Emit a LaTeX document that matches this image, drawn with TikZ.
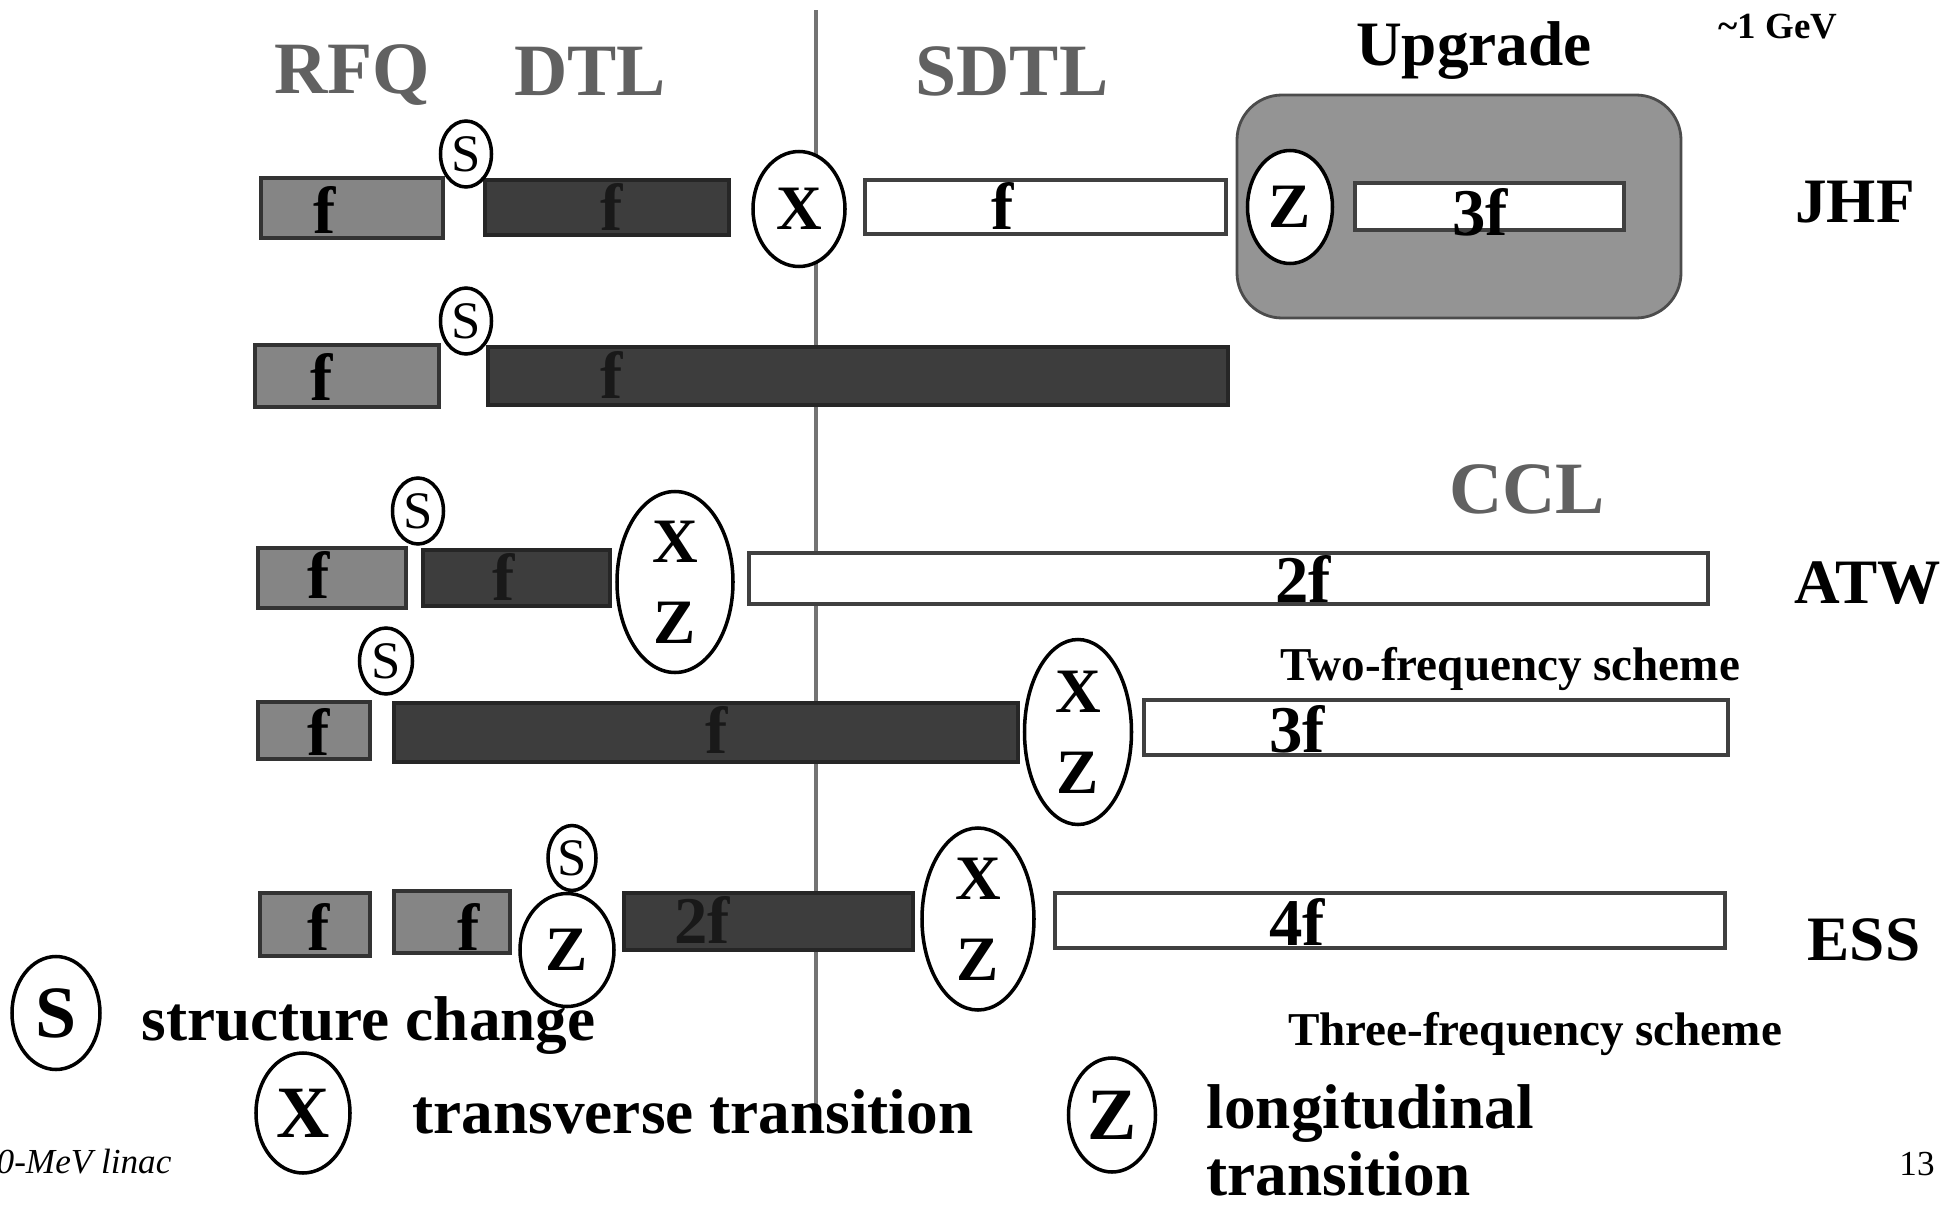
\documentclass[tikz,border=0pt]{standalone}
\usepackage{fontspec}
\setmainfont{Liberation Serif}
\usepackage{tikz}
\usetikzlibrary{shapes.geometric}

\begin{document}
\begin{tikzpicture}
\tikzset{
	hd/.style={font=\fontsize{21}{21}\selectfont\bfseries, text=black!62, anchor=base, inner sep=0},
	tag/.style={font=\fontsize{18}{18}\selectfont\bfseries, anchor=base, inner sep=0},
	lbl/.style={font=\fontsize{19}{19}\selectfont\bfseries, anchor=base, inner sep=0},
	note/.style={font=\fontsize{13.4}{13.4}\selectfont\bfseries, anchor=base, inner sep=0},
	leg/.style={font=\fontsize{18}{18}\selectfont\bfseries, anchor=base west, inner sep=0},
	ring/.style={ellipse, draw=black, line width=1pt, fill=white, inner sep=0, font=\fontsize{18}{23}\selectfont\bfseries, align=center},
	sring/.style={ellipse, draw=black, line width=1pt, fill=white, inner sep=0, font=\fontsize{15}{15}\selectfont, minimum width=0.51cm, minimum height=0.66cm},
	rfq/.style={draw=black!80, fill=black!48, line width=0.9pt},
	dtl/.style={draw=black!85, fill=black!76, line width=0.9pt},
	ccl/.style={draw=black!75, fill=white, line width=1.1pt}
}
\useasboundingbox (0,0) rectangle (19.59,12.08);

% Trennlinie
\draw[black!55, line width=1.3pt] (8.16,1.01) -- (8.16,11.98);

% Titel
\node[hd] (t_rfq) at(3.52,11.15) {RFQ};
\node[hd] (t_dtl) at(5.90,11.13) {DTL};
\node[hd] (t_sdtl) at(10.12,11.13) {SDTL};
\node[hd] (t_ccl) at(15.27,6.95) {CCL};
\node[tag] (t_up) at(14.74,11.43) {Upgrade};
\node[anchor=base, inner sep=0, font=\fontsize{10.5}{10.5}\selectfont\bfseries] (t_gev) at(17.78,11.70) {\textasciitilde1 GeV};

% JHF
\draw[rfq] (2.61,9.70) rectangle (4.43,10.30);
\draw[dtl] (4.85,9.73) rectangle (7.29,10.28);
\draw[ccl] (8.65,9.74) rectangle (12.26,10.28);
\draw[draw=black!70, fill=black!42, line width=0.8pt, rounded corners=0.45cm] (12.37,8.90) rectangle (16.81,11.13);
\draw[ccl] (13.55,9.78) rectangle (16.24,10.25);
\node[sring] (s_1) at(4.66,10.54) {S};
\node[ring, minimum width=0.92cm, minimum height=1.15cm] (x_1) at(7.99,9.99) {X};
\node[ring, minimum width=0.85cm, minimum height=1.13cm] (z_1) at(12.90,10.01) {Z};
\node[lbl] (f_11) at(3.25,9.75) {f};
\node[lbl, text=black!90] (f_12) at(6.12,9.78) {f};
\node[lbl] (f_13) at(10.03,9.79) {f};
\node[lbl] (f_14) at(14.80,9.73) {3f};
\node[tag] (n_jhf) at(18.55,9.86) {JHF};

% zweite Zeile
\draw[rfq] (2.55,8.01) rectangle (4.39,8.63);
\draw[dtl] (4.88,8.03) rectangle (12.28,8.61);
\node[sring] (s_2) at(4.66,8.87) {S};
\node[lbl] (f_21) at(3.22,8.08) {f};
\node[lbl, text=black!90] (f_22) at(6.12,8.10) {f};

% ATW
\draw[rfq] (2.58,6.00) rectangle (4.06,6.60);
\draw[dtl] (4.23,6.02) rectangle (6.10,6.58);
\draw[ccl] (7.49,6.04) rectangle (17.08,6.55);
\node[sring] (s_3) at(4.18,6.97) {S};
\node[ring, minimum width=1.16cm, minimum height=1.81cm] (xz_3) at(6.75,6.26) {X\\Z};
\node[lbl] (f_31) at(3.19,6.10) {f};
\node[lbl, text=black!90] (f_32) at(5.04,6.08) {f};
\node[lbl] (f_33) at(13.03,6.06) {2f};
\node[tag] (n_atw) at(18.68,6.05) {ATW};
\node[note] (n_two) at(15.10,5.28) {Two-frequency scheme};

% vierte Zeile
\draw[rfq] (2.58,4.49) rectangle (3.70,5.06);
\draw[dtl] (3.94,4.46) rectangle (10.18,5.05);
\draw[ccl] (11.44,4.53) rectangle (17.28,5.08);
\node[sring, minimum width=0.53cm] (s_4) at(3.86,5.47) {S};
\node[ring, minimum width=1.07cm, minimum height=1.85cm] (xz_4) at(10.78,4.76) {X\\Z};
\node[lbl] (f_41) at(3.19,4.53) {f};
\node[lbl, text=black!90] (f_42) at(7.17,4.55) {f};
\node[lbl] (f_43) at(12.97,4.56) {3f};

% ESS
\draw[rfq] (2.60,2.52) rectangle (3.70,3.15);
\draw[rfq] (3.94,2.55) rectangle (5.10,3.17);
\draw[dtl] (6.24,2.58) rectangle (9.13,3.15);
\draw[ccl] (10.55,2.60) rectangle (17.25,3.15);
\node[sring, minimum width=0.48cm, minimum height=0.65cm] (s_5) at(5.72,3.50) {S};
\node[ring, minimum width=0.94cm, minimum height=1.13cm] (z_5) at(5.67,2.58) {Z};
\node[ring, minimum width=1.12cm, minimum height=1.82cm] (xz_5) at(9.78,2.89) {X\\Z};
\node[lbl] (f_51) at(3.19,2.58) {f};
\node[lbl] (f_52) at(4.69,2.58) {f};
\node[lbl, text=black!90] (f_53) at(7.02,2.65) {2f};
\node[lbl] (f_54) at(12.97,2.63) {4f};
\node[tag] (n_ess) at(18.64,2.48) {ESS};
\node[note] (n_three) at(15.35,1.63) {Three-frequency scheme};

% Legende
\node[ring, font=\fontsize{21}{21}\selectfont\bfseries, minimum width=0.88cm, minimum height=1.13cm] (l_s) at(0.56,1.95) {S};
\node[leg] (l_st) at(1.41,1.68) {structure change};
\node[ring, font=\fontsize{21}{21}\selectfont\bfseries, minimum width=0.94cm, minimum height=1.20cm] (l_x) at(3.03,0.95) {X};
\node[leg] (l_xt) at(4.12,0.75) {transverse transition};
\node[ring, font=\fontsize{21}{21}\selectfont\bfseries, minimum width=0.87cm, minimum height=1.14cm] (l_z) at(11.12,0.93) {Z};
\node[leg] (l_zt) at(12.06,0.80) {longitudinal};
\node[leg] (l_zt2) at(12.06,0.13) {transition};

% Fusszeile
\node[anchor=base west, inner sep=0, font=\fontsize{10}{10}\selectfont\itshape] (foot) at(-0.04,0.35) {0-MeV linac};
\node[anchor=base, inner sep=0, font=\fontsize{10}{10}\selectfont] (page) at(19.17,0.33) {13};

\end{tikzpicture}
\end{document}
